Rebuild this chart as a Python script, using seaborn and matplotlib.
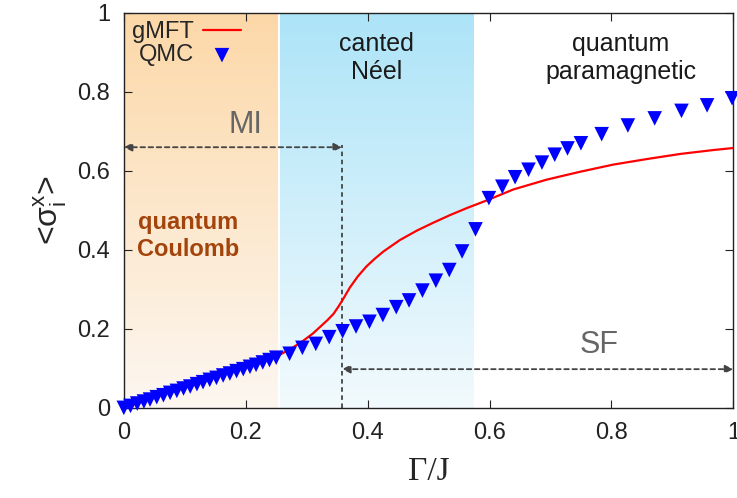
import numpy as np
import pandas as pd
import matplotlib
matplotlib.use("Agg")
import matplotlib.pyplot as plt
from matplotlib.colors import LinearSegmentedColormap
import seaborn as sns

# ── data ────────────────────────────────────────────────────────────────────
# QMC points (Γ/J, <σ_i^x>)
qmc_g = [0.000, 0.011, 0.022, 0.033, 0.043, 0.054, 0.065, 0.076, 0.087, 0.098,
         0.109, 0.120, 0.130, 0.141, 0.152, 0.163, 0.174, 0.185, 0.196, 0.207,
         0.217, 0.228, 0.239, 0.250,
         0.272, 0.293, 0.315, 0.337, 0.359, 0.381, 0.403, 0.425, 0.447, 0.468,
         0.490, 0.512, 0.534, 0.555, 0.577, 0.599, 0.621, 0.642, 0.664, 0.686,
         0.707, 0.728, 0.750, 0.784, 0.827, 0.871, 0.915, 0.957, 0.998]
qmc_s = [0.000, 0.005, 0.011, 0.016, 0.021, 0.027, 0.032, 0.038, 0.043, 0.049,
         0.054, 0.060, 0.065, 0.071, 0.076, 0.082, 0.087, 0.093, 0.098, 0.104,
         0.109, 0.115, 0.121, 0.127,
         0.137, 0.152, 0.162, 0.179, 0.194, 0.206, 0.218, 0.235, 0.255, 0.272,
         0.297, 0.322, 0.349, 0.396, 0.452, 0.531, 0.560, 0.584, 0.603, 0.621,
         0.641, 0.657, 0.670, 0.693, 0.715, 0.733, 0.752, 0.766, 0.784]

# gMFT curve
mft_g = [0.000, 0.050, 0.100, 0.150, 0.200, 0.250, 0.270, 0.290, 0.310, 0.322,
         0.334, 0.344, 0.352, 0.360, 0.371, 0.384, 0.398, 0.412, 0.426, 0.453,
         0.481, 0.508, 0.535, 0.563, 0.595, 0.639, 0.694, 0.749, 0.803, 0.858,
         0.913, 0.968, 1.000]
mft_s = [0.000, 0.026, 0.052, 0.078, 0.103, 0.130, 0.146, 0.165, 0.188, 0.205,
         0.222, 0.238, 0.256, 0.276, 0.305, 0.333, 0.358, 0.378, 0.396, 0.425,
         0.449, 0.469, 0.488, 0.506, 0.525, 0.553, 0.578, 0.598, 0.616, 0.630,
         0.643, 0.653, 0.658]

# phase boundaries / annotations
mi_edge = 0.252
neel_span = (0.257, 0.574)
sf_start = 0.358
mi_arrow_y = 0.66
sf_arrow_y = 0.098

qmc = pd.DataFrame({"g": qmc_g, "s": qmc_s})
mft = pd.DataFrame({"g": mft_g, "s": mft_s})

sns.set_style("ticks")
plt.rcParams["font.family"] = ["Liberation Sans", "DejaVu Sans"]

fig = plt.figure(figsize=(7.37, 4.98), dpi=100)
ax = fig.add_axes([0.168, 0.181, 0.827, 0.793])

# gradient backgrounds
grad = np.linspace(0, 1, 256).reshape(-1, 1)
cm_or = LinearSegmentedColormap.from_list("or", ["#fdf7f1", "#fcd8a8"])
cm_bl = LinearSegmentedColormap.from_list("bl", ["#f2fafd", "#ade4f8"])
ax.imshow(grad, cmap=cm_or, origin="lower", aspect="auto",
          extent=(0, mi_edge, 0, 1), zorder=0)
ax.imshow(grad, cmap=cm_bl, origin="lower", aspect="auto",
          extent=(neel_span[0], neel_span[1], 0, 1), zorder=0)

sns.lineplot(data=mft, x="g", y="s", ax=ax, color="#ff0000", lw=1.6,
             label="gMFT", zorder=3)
sns.scatterplot(data=qmc, x="g", y="s", ax=ax, marker="v", color="#0000ff",
                s=110, edgecolor="none", label="QMC", zorder=4, clip_on=False)

# dotted arrows and divider
arr = dict(arrowstyle="<|-|>", color="#444444", lw=1.3, linestyle=(0, (2.5, 2)),
           mutation_scale=12, shrinkA=0, shrinkB=0)
ax.annotate("", xy=(0.0, mi_arrow_y), xytext=(sf_start, mi_arrow_y), arrowprops=arr)
ax.annotate("", xy=(sf_start, sf_arrow_y), xytext=(1.0, sf_arrow_y), arrowprops=arr)
ax.plot([sf_start, sf_start], [0, mi_arrow_y + 0.005], color="#444444", lw=1.3,
        linestyle=(0, (2.5, 2)), zorder=2)

# region labels
ax.text(0.2, 0.715, "MI", color="#666666", fontsize=22, ha="center", va="center")
ax.text(0.78, 0.16, "SF", color="#666666", fontsize=22, ha="center", va="center")
ax.text(0.105, 0.435, "quantum\nCoulomb", color="#a3440c", fontsize=17,
        fontweight="bold", ha="center", va="center", linespacing=1.2)
ax.text(0.415, 0.885, "canted\nNéel", color="#1a1a1a", fontsize=18,
        ha="center", va="center", linespacing=1.2)
ax.text(0.815, 0.885, "quantum\nparamagnetic", color="#1a1a1a", fontsize=18,
        ha="center", va="center", linespacing=1.2)

ax.set_xlim(0, 1)
ax.set_ylim(0, 1)
ax.set_xticks([0, 0.2, 0.4, 0.6, 0.8, 1])
ax.set_xticklabels(["0", "0.2", "0.4", "0.6", "0.8", "1"])
ax.set_yticks([0, 0.2, 0.4, 0.6, 0.8, 1])
ax.set_yticklabels(["0", "0.2", "0.4", "0.6", "0.8", "1"])
ax.tick_params(direction="in", top=True, right=True, labelsize=17, pad=10,
               length=6, width=0.8, colors="#222222")
for sp in ax.spines.values():
    sp.set_linewidth(1.0)
    sp.set_color("#222222")

ax.set_xlabel("Γ/J", fontsize=24, family=["Liberation Serif"], labelpad=9)
ax.set_ylabel("<σ$_\\mathregular{i}^\\mathregular{x}$>", fontsize=23, labelpad=6)

leg = ax.legend(loc="upper left", markerfirst=False, frameon=False, fontsize=17,
                handlelength=1.6, handletextpad=0.4, labelspacing=0.05,
                borderaxespad=0.2, bbox_to_anchor=(-0.01, 1.015))

fig.savefig("out.png", dpi=100)
